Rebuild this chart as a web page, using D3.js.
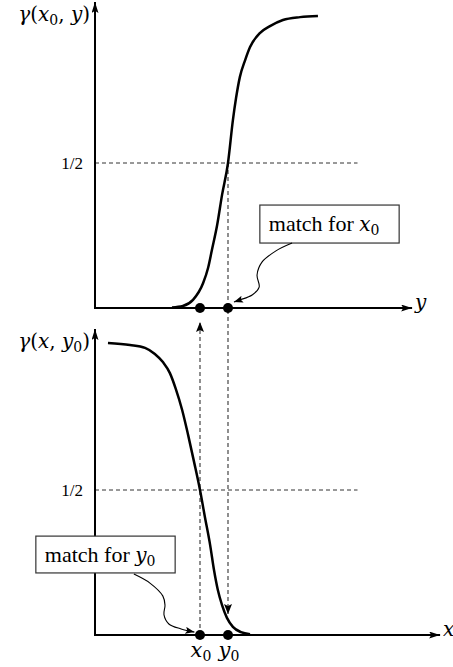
<!DOCTYPE html>
<html>
<head>
<meta charset="utf-8">
<script src="https://cdn.jsdelivr.net/npm/d3@7"></script>
<style>
  html, body { margin: 0; padding: 0; background: #fff; }
  svg { display: block; }
  .math { font-family: "DejaVu Serif", serif; }
  .txt { font-family: "Liberation Serif", "Times New Roman", serif; }
</style>
</head>
<body>
<svg id="chart" width="453" height="667"></svg>
<script>
// Upper panel: gamma(x0, y) rising with y
const topY     = [22.0, 25.1, 28.0, 30.9, 32.3, 33.4, 34.9, 36.3, 38.0, 39.4, 40.3, 41.4, 42.9, 44.3, 47.1, 50.0, 53.7, 58.6, 63.7];
const topGamma = [0.002, 0.007, 0.028, 0.086, 0.138, 0.200, 0.286, 0.390, 0.500, 0.648, 0.724, 0.797, 0.855, 0.900, 0.948, 0.972, 0.993, 1.003, 1.007];

// Lower panel: gamma(x, y0) falling with x
const bottomX     = [3.7, 10.0, 14.3, 17.1, 19.4, 21.4, 23.1, 24.9, 26.6, 28.3, 30.0, 31.4, 32.9, 34.0, 35.1, 36.3, 37.7, 39.4, 41.7, 44.3];
const bottomGamma = [1.007, 1.000, 0.990, 0.969, 0.941, 0.903, 0.848, 0.776, 0.690, 0.597, 0.500, 0.407, 0.310, 0.224, 0.155, 0.103, 0.059, 0.028, 0.010, 0.003];

// Matching points and the reference level
const x0Value = 30;
const y0Value = 38;
const halfLevel = 0.5;
const tickLabels = ["1/2"];
const halfLineEnd = 75;
const topAxisEnd = 90.6;
const bottomAxisEnd = 98.6;
const gammaAxisEnd = 1.055;

const svg = d3.select("#chart");

const xScale = d3.scaleLinear().domain([0, 100]).range([95, 445]);
const topG = d3.scaleLinear().domain([0, 1]).range([308, 18]);
const botG = d3.scaleLinear().domain([0, 1]).range([635, 345]);

// Arrowhead markers
const defs = svg.append("defs");
function marker(id, len, half) {
  defs.append("marker")
    .attr("id", id)
    .attr("viewBox", `0 ${-half} ${len} ${2 * half}`)
    .attr("refX", len).attr("refY", 0)
    .attr("markerUnits", "userSpaceOnUse")
    .attr("markerWidth", len).attr("markerHeight", 2 * half)
    .attr("orient", "auto")
    .append("path")
    .attr("d", `M0,${-half}L${len},0L0,${half}L${len * 0.2},0Z`)
    .attr("fill", "#000");
}
marker("axisArrow", 11, 3.5);
marker("dashArrow", 10, 4);
marker("noteArrow", 9, 3.5);

function panel(gScale, axisEnd, xLabel, yLabelParts) {
  const g = svg.append("g");
  // half-level tick label via a left axis with only that tick
  const axis = d3.axisLeft(gScale).tickValues([halfLevel]).tickFormat(() => tickLabels[0]).tickSize(0).tickPadding(12);
  const ax = g.append("g").attr("transform", `translate(${xScale(0)},0)`).call(axis);
  ax.select(".domain").remove();
  ax.selectAll("text").attr("fill", "#000")
    .style("font-size", "17px").style("font-family", "'Liberation Serif', serif");

  // dashed half-level line
  g.append("line")
    .attr("x1", xScale(0)).attr("x2", xScale(halfLineEnd))
    .attr("y1", gScale(halfLevel)).attr("y2", gScale(halfLevel))
    .attr("stroke", "#333").attr("stroke-width", 1).attr("stroke-dasharray", "4,3");

  // axes with arrowheads
  g.append("line")
    .attr("x1", xScale(0)).attr("x2", xScale(0))
    .attr("y1", gScale(0) + 1).attr("y2", gScale(gammaAxisEnd))
    .attr("stroke", "#000").attr("stroke-width", 2).attr("marker-end", "url(#axisArrow)");
  g.append("line")
    .attr("x1", xScale(0) - 1).attr("x2", xScale(axisEnd))
    .attr("y1", gScale(0)).attr("y2", gScale(0))
    .attr("stroke", "#000").attr("stroke-width", 2).attr("marker-end", "url(#axisArrow)");

  // axis variable name
  g.append("text").attr("class", "math")
    .attr("x", xScale(axisEnd) + 3).attr("y", gScale(0) + 1)
    .style("font-size", "20px").style("font-style", "italic").text(xLabel);

  // vertical axis title, e.g. γ(x₀, y)
  const t = g.append("text").attr("class", "math")
    .attr("x", xScale(0) - 5).attr("y", gScale(gammaAxisEnd) + 19)
    .attr("text-anchor", "end").style("font-size", "20px");
  yLabelParts.forEach(p => {
    const s = t.append("tspan").text(p.t);
    if (p.i) s.style("font-style", "italic");
    if (p.sub) s.attr("dy", 4).style("font-size", "14px");
    if (p.up) s.attr("dy", -4);
  });
  return g;
}

panel(topG, topAxisEnd, "y", [
  { t: "γ", i: true }, { t: "(" }, { t: "x", i: true }, { t: "0", sub: true }, { t: ", ", up: true }, { t: "y", i: true }, { t: ")" }
]);
panel(botG, bottomAxisEnd, "x", [
  { t: "γ", i: true }, { t: "(" }, { t: "x", i: true }, { t: ", " }, { t: "y", i: true }, { t: "0", sub: true }, { t: ")", up: true }
]);

// dashed projection lines
// y0: from the upper curve's half point down into the lower panel
svg.append("line")
  .attr("x1", xScale(y0Value)).attr("x2", xScale(y0Value))
  .attr("y1", topG(halfLevel)).attr("y2", botG(0.072))
  .attr("stroke", "#333").attr("stroke-width", 1.1).attr("stroke-dasharray", "4,3")
  .attr("marker-end", "url(#dashArrow)");
// x0: from the lower axis up to the upper axis
svg.append("line")
  .attr("x1", xScale(x0Value)).attr("x2", xScale(x0Value))
  .attr("y1", botG(0)).attr("y2", topG(0) + 14)
  .attr("stroke", "#333").attr("stroke-width", 1.1).attr("stroke-dasharray", "4,3")
  .attr("marker-end", "url(#dashArrow)");

// curves
const lineTop = d3.line().x((d, i) => xScale(topY[i])).y((d, i) => topG(topGamma[i])).curve(d3.curveMonotoneX);
svg.append("path").attr("d", lineTop(topY)).attr("fill", "none").attr("stroke", "#000").attr("stroke-width", 2.5);

const lineBot = d3.line().x((d, i) => xScale(bottomX[i])).y((d, i) => botG(bottomGamma[i])).curve(d3.curveMonotoneX);
svg.append("path").attr("d", lineBot(bottomX)).attr("fill", "none").attr("stroke", "#000").attr("stroke-width", 2.5);

// dots at x0 and y0 on both axes
[topG, botG].forEach(gs => {
  [x0Value, y0Value].forEach(v => {
    svg.append("circle").attr("cx", xScale(v)).attr("cy", gs(0)).attr("r", 5).attr("fill", "#000");
  });
});

// labels under the lower axis
function subLabel(v, letter) {
  const t = svg.append("text").attr("class", "math")
    .attr("x", xScale(v) + 1).attr("y", botG(0) + 22)
    .attr("text-anchor", "middle").style("font-size", "21px");
  t.append("tspan").style("font-style", "italic").text(letter);
  t.append("tspan").attr("dy", 4).style("font-size", "14px").text("0");
}
subLabel(x0Value, "x");
subLabel(y0Value, "y");

// annotation boxes with wavy leaders
function note(gs, u1, u2, gTop, gBot, letter, leader) {
  const x1 = xScale(u1), x2 = xScale(u2), y1 = gs(gTop), y2 = gs(gBot);
  svg.append("rect").attr("x", x1).attr("y", y1).attr("width", x2 - x1).attr("height", y2 - y1)
    .attr("fill", "#fff").attr("stroke", "#333").attr("stroke-width", 1.2);
  const t = svg.append("text").attr("class", "txt")
    .attr("x", x1 + 9).attr("y", (y1 + y2) / 2 + 7).style("font-size", "22px");
  t.append("tspan").text("match for ");
  t.append("tspan").style("font-family", "'DejaVu Serif', serif")
    .style("font-style", "italic").style("font-size", "20px").text(letter);
  t.append("tspan").attr("dy", 4).style("font-family", "'DejaVu Serif', serif").style("font-size", "14px").text("0");
  const ln = d3.line().x(d => xScale(d[0])).y(d => gs(d[1])).curve(d3.curveCatmullRom);
  svg.append("path").attr("d", ln(leader)).attr("fill", "none")
    .attr("stroke", "#000").attr("stroke-width", 1.1).attr("marker-end", "url(#noteArrow)");
}

note(topG, 47.1, 86.9, 0.355, 0.224, "x",
  [[56.3, 0.224], [51.7, 0.197], [47.7, 0.158], [46.3, 0.114], [46.9, 0.072], [44.9, 0.045], [41.4, 0.028], [39.7, 0.021]]);
note(botG, -16.9, 22.9, 0.341, 0.214, "y",
  [[11.1, 0.210], [15.7, 0.179], [19.4, 0.134], [20.0, 0.103], [19.7, 0.070], [21.1, 0.038], [24.6, 0.021], [28.4, 0.010]]);
</script>
</body>
</html>
